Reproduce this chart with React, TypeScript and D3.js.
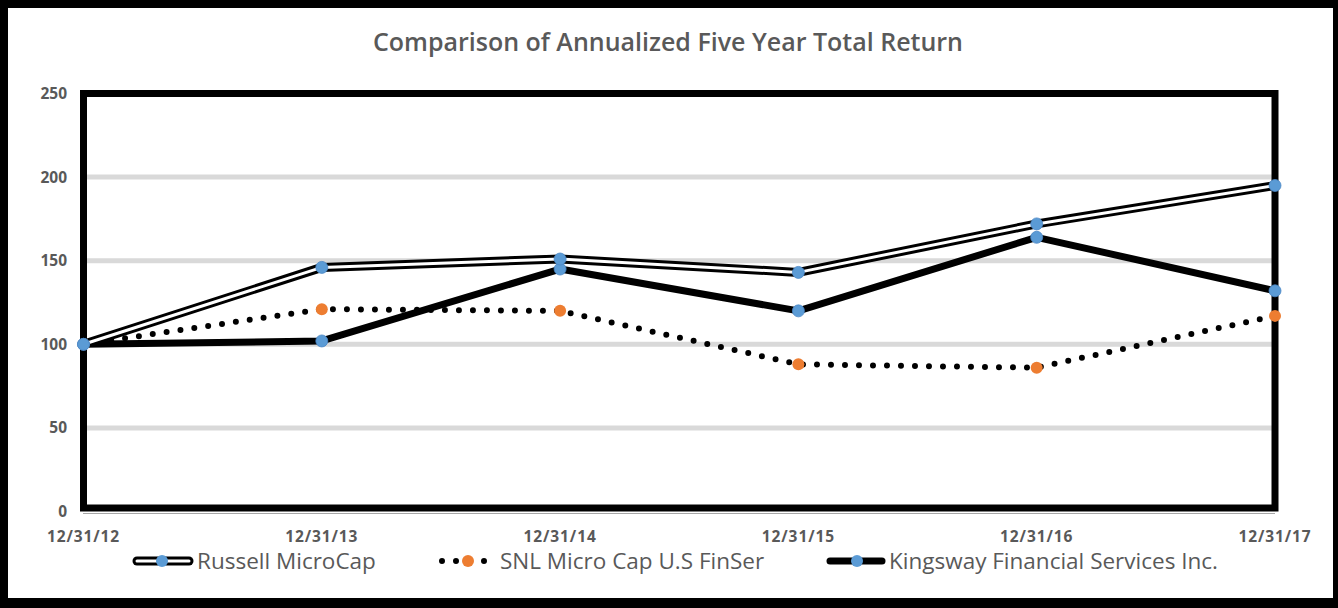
import React from "react";
import * as d3 from "d3";

const dates = ["12/31/12", "12/31/13", "12/31/14", "12/31/15", "12/31/16", "12/31/17"];
const russell = [100, 146, 151, 143, 172, 195];
const snl = [100, 121, 120, 88, 86, 117];
const kingsway = [100, 102, 145, 120, 164, 132];
const yTicks = [0, 50, 100, 150, 200, 250];
const seriesNames = ["Russell MicroCap", "SNL Micro Cap U.S FinSer", "Kingsway Financial Services Inc."];
const title = "Comparison of Annualized Five Year Total Return";

const W = 1338;
const H = 608;
const FONT = "'Open Sans', Lato, sans-serif";
const GRAY = "#595959";
const BLUE = "#5b9bd5";
const ORANGE = "#ed7d31";

export default function App() {
  const x = d3.scalePoint<string>().domain(dates).range([83.5, 1275]);
  const y = d3.scaleLinear().domain([0, 250]).range([511.5, 93.5]);
  const line = d3
    .line<number>()
    .x((_, i) => x(dates[i]) as number)
    .y((d) => y(d));

  const legY = 561;

  return (
    <svg width={W} height={H} style={{ position: "absolute", left: 0, top: 0 }}>
      <rect x={0} y={0} width={W} height={H} fill="#000" />
      <rect x={8} y={8} width={1325} height={590} fill="#fff" />
      <text x={668} y={51} textAnchor="middle" fontFamily={FONT} fontWeight={600} fontSize={25} fill={GRAY}>
        {title}
      </text>
      {yTicks.map((t) => (
        <g key={t}>
          {t > 0 && t < 250 && (
            <line x1={x(dates[0])} x2={x(dates[5])} y1={y(t)} y2={y(t)} stroke="#d9d9d9" strokeWidth={5} />
          )}
          <text x={67} y={y(t) + 5.5} textAnchor="end" fontFamily={FONT} fontWeight={700} fontSize={15.5} fill={GRAY}>
            {t}
          </text>
        </g>
      ))}
      <line x1={83} x2={1275} y1={513.5} y2={513.5} stroke="#a6a6a6" strokeWidth={1.2} />
      <rect x={83.5} y={93.5} width={1191.5} height={414.5} fill="none" stroke="#000" strokeWidth={7} />
      {dates.map((d) => (
        <text key={d} x={x(d)} y={541.5} textAnchor="middle" fontFamily={FONT} fontWeight={700} fontSize={15.5} letterSpacing={0.9} fill={GRAY}>
          {d}
        </text>
      ))}
      {/* SNL dotted */}
      <path d={line(snl) || ""} fill="none" stroke="#000" strokeWidth={6} strokeDasharray="0 14" strokeLinecap="round" />
      {/* Kingsway solid thick */}
      <path d={line(kingsway) || ""} fill="none" stroke="#000" strokeWidth={7} strokeLinejoin="round" />
      {/* Russell double line */}
      <path d={line(russell) || ""} fill="none" stroke="#000" strokeWidth={9} strokeLinejoin="round" />
      <path d={line(russell) || ""} fill="none" stroke="#fff" strokeWidth={3} strokeLinejoin="round" />
      {snl.map((v, i) => (
        <circle key={"s" + i} cx={x(dates[i])} cy={y(v)} r={6} fill={ORANGE} />
      ))}
      {kingsway.map((v, i) => (
        <circle key={"k" + i} cx={x(dates[i])} cy={y(v)} r={6} fill={BLUE} stroke="#4a86c5" strokeWidth={0.8} />
      ))}
      {russell.map((v, i) => (
        <circle key={"r" + i} cx={x(dates[i])} cy={y(v)} r={6} fill={BLUE} stroke="#4a86c5" strokeWidth={0.8} />
      ))}
      {/* Legend */}
      <g>
        <line x1={137} x2={189} y1={legY} y2={legY} stroke="#000" strokeWidth={9} strokeLinecap="round" />
        <line x1={137} x2={189} y1={legY} y2={legY} stroke="#fff" strokeWidth={3} strokeLinecap="round" />
        <circle cx={162} cy={legY} r={6} fill={BLUE} />
        <text x={197} y={569} fontFamily={FONT} fontSize={22.5} fill={GRAY}>{seriesNames[0]}</text>

        <line x1={442} x2={488} y1={legY} y2={legY} stroke="#000" strokeWidth={6} strokeDasharray="0 14" strokeLinecap="round" />
        <circle cx={468} cy={legY} r={6} fill={ORANGE} />
        <text x={500} y={569} fontFamily={FONT} fontSize={22.5} fill={GRAY}>{seriesNames[1]}</text>

        <line x1={830} x2={882} y1={legY} y2={legY} stroke="#000" strokeWidth={7} strokeLinecap="round" />
        <circle cx={857} cy={legY} r={6} fill={BLUE} />
        <text x={889} y={569} fontFamily={FONT} fontSize={22.5} fill={GRAY}>{seriesNames[2]}</text>
      </g>
    </svg>
  );
}
